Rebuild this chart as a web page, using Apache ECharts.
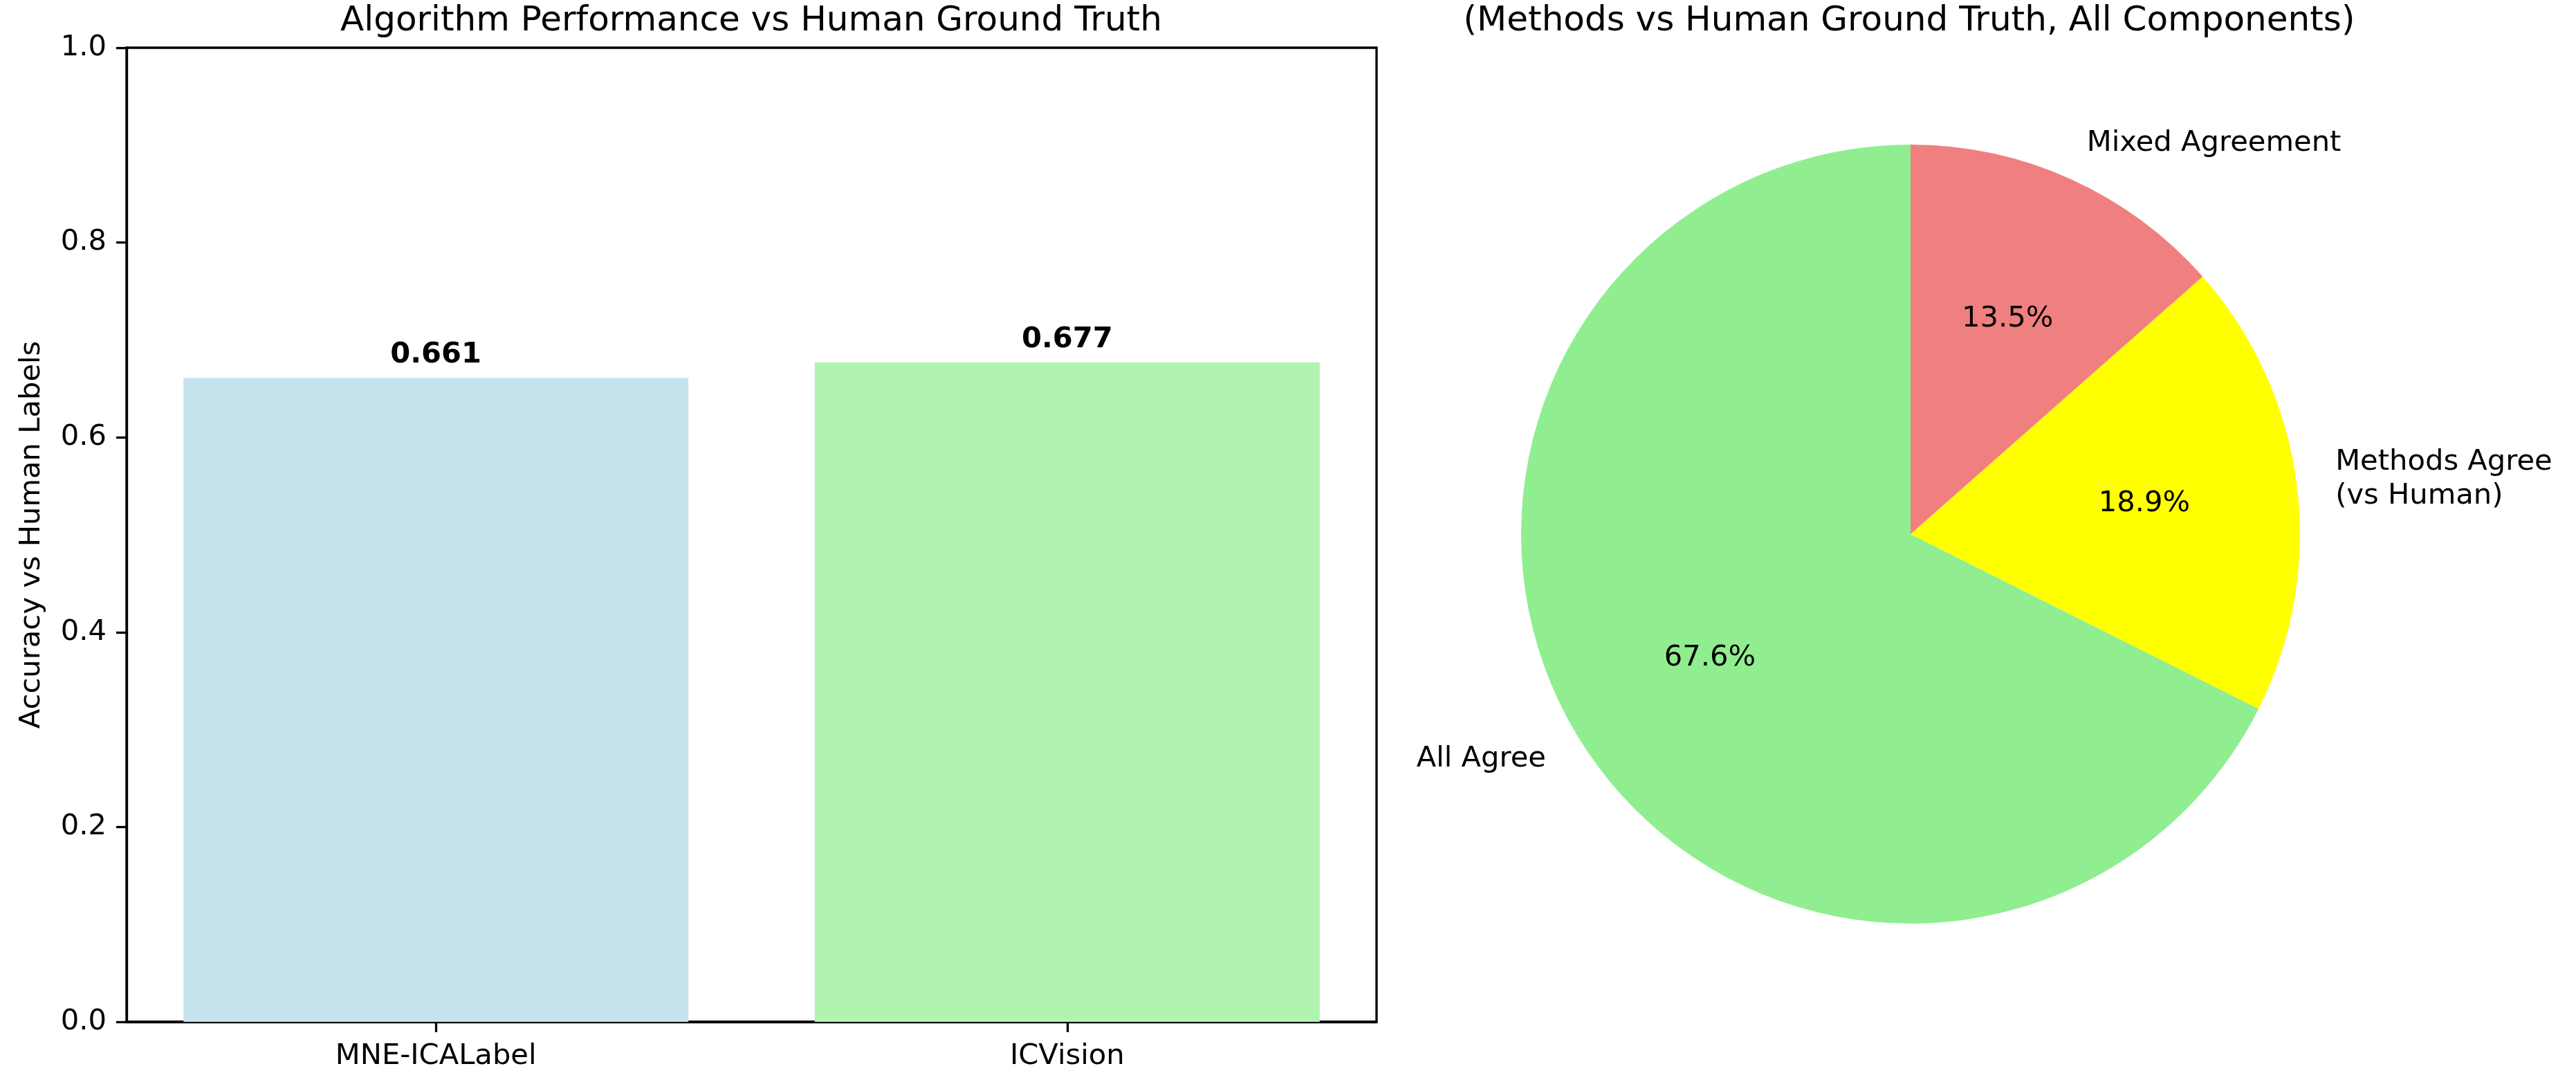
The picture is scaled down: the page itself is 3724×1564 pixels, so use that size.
<!DOCTYPE html>
<html lang="en">
<head>
    <meta charset="utf-8">
    <title>Algorithm Performance vs Human Ground Truth</title>
    <script src="https://cdn.jsdelivr.net/npm/echarts@6/dist/echarts.min.js"></script>
    <style>
        html, body { margin: 0; padding: 0; background: #fff; }
        #main { width: 3724px; height: 1564px; }
    </style>
</head>
<body>
<div id="main"></div>
<script>
// bar chart data
var categories = ['MNE-ICALabel', 'ICVision'];
var accuracy = [0.661, 0.677];
var barColors = ['#c5e3ec', '#b1f4b1'];

// pie chart data
var pieNames = ['All Agree', 'Methods Agree\n(vs Human)', 'Mixed Agreement'];
var piePercents = [67.6, 18.9, 13.5];
var pieColors = ['#90ee90', '#ffff00', '#f08080'];

var FONT = 'DejaVu Sans';
var FS = 41.67;
var R = 563;
var CENTER = [2762, 772];

var chart = echarts.init(document.getElementById('main'), null, {renderer: 'canvas'});

// bars sit at x = 0, 1 on a value axis spanning -0.49 .. 1.49
var barData = accuracy.map(function (v, i) {
    return {value: [i, v], itemStyle: {color: barColors[i]}};
});
var catPositions = categories.map(function (c, i) { return i; });
var pieData = piePercents.map(function (v, i) {
    return {value: v, name: pieNames[i], itemStyle: {color: pieColors[i]}};
});

chart.setOption({
    backgroundColor: '#fff',
    animation: false,
    textStyle: {fontFamily: FONT},
    title: [
        {
            text: 'Algorithm Performance vs Human Ground Truth',
            left: 1086, top: 6, textAlign: 'center', padding: 0,
            textStyle: {fontFamily: FONT, fontSize: 50, fontWeight: 'normal', color: '#000'}
        },
        {
            text: '(Methods vs Human Ground Truth, All Components)',
            left: 2760, top: 6, textAlign: 'center', padding: 0,
            textStyle: {fontFamily: FONT, fontSize: 50, fontWeight: 'normal', color: '#000'}
        }
    ],
    grid: {
        left: 183, top: 69, width: 1807, height: 1408,
        show: true, borderColor: '#000', borderWidth: 3.3,
        backgroundColor: 'transparent',
        outerBoundsMode: 'none'
    },
    xAxis: {
        type: 'value',
        min: -0.49, max: 1.49,
        axisLine: {show: true, onZero: false, lineStyle: {color: '#000', width: 3.3}},
        axisTick: {show: true, inside: false, length: 15, customValues: catPositions, lineStyle: {color: '#000', width: 3.3}},
        axisLabel: {
            margin: 29, fontFamily: FONT, fontSize: FS, color: '#000',
            customValues: catPositions,
            formatter: function (v) { return categories[Math.round(v)]; }
        },
        splitLine: {show: false}
    },
    yAxis: {
        type: 'value',
        min: 0, max: 1, interval: 0.2,
        name: 'Accuracy vs Human Labels',
        nameLocation: 'middle',
        nameGap: 116,
        nameRotate: 90,
        nameTextStyle: {fontFamily: FONT, fontSize: FS, color: '#000'},
        axisLine: {show: true, onZero: false, lineStyle: {color: '#000', width: 3.3}},
        axisTick: {show: true, inside: false, length: 15, lineStyle: {color: '#000', width: 3.3}},
        axisLabel: {
            margin: 29, fontFamily: FONT, fontSize: FS, color: '#000',
            formatter: function (v) { return v.toFixed(1); }
        },
        splitLine: {show: false}
    },
    series: [
        {
            type: 'bar',
            data: barData,
            barWidth: 730,
            label: {
                show: true, position: 'top', distance: 12,
                fontFamily: FONT, fontSize: FS, fontWeight: 'bold', color: '#000',
                formatter: function (p) { return p.value[1].toFixed(3); }
            }
        },
        {
            type: 'pie',
            center: CENTER,
            radius: [0, R],
            startAngle: 90,
            clockwise: false,
            avoidLabelOverlap: false,
            silent: true,
            itemStyle: {borderWidth: 0},
            label: {
                show: true, position: 'outside',
                distanceToLabelLine: 0,
                fontFamily: FONT, fontSize: FS, color: '#000', lineHeight: 49,
                formatter: '{b}'
            },
            labelLine: {show: false, length: R * 0.1, length2: 0},
            data: pieData
        },
        {
            // transparent ring only to place the percentage labels at 0.6 r
            type: 'pie',
            center: CENTER,
            radius: [R * 0.5, R * 0.7],
            startAngle: 90,
            clockwise: false,
            avoidLabelOverlap: false,
            silent: true,
            itemStyle: {color: 'rgba(0,0,0,0)', borderWidth: 0},
            label: {
                show: true, position: 'inside',
                fontFamily: FONT, fontSize: FS, color: '#000',
                formatter: function (p) { return p.value.toFixed(1) + '%'; }
            },
            labelLine: {show: false},
            data: piePercents.map(function (v, i) {
                return {value: v, name: pieNames[i], itemStyle: {color: 'rgba(0,0,0,0)'}};
            })
        }
    ]
});
</script>
</body>
</html>
